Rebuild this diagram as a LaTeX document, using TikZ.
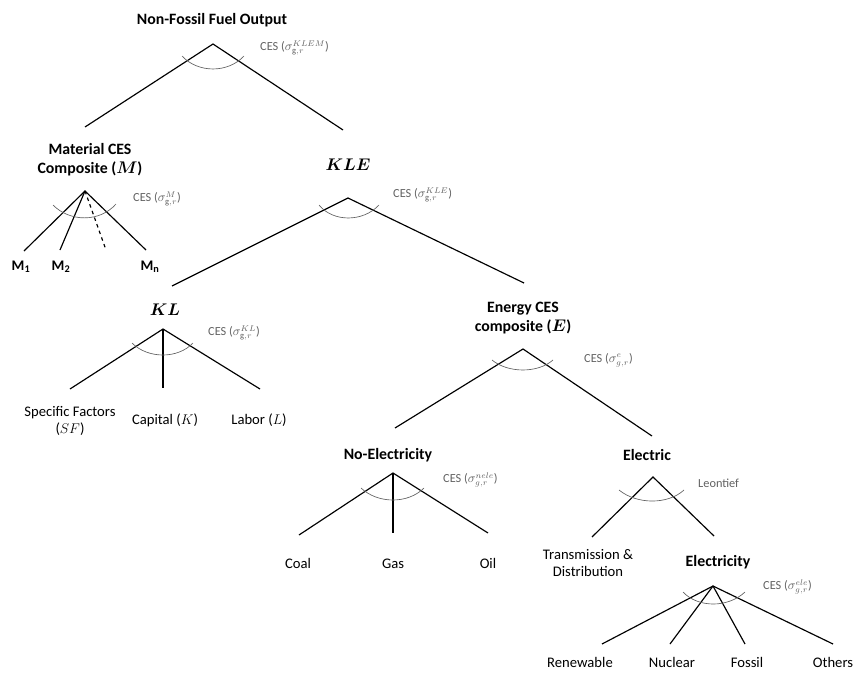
\documentclass[tikz,border=0pt]{standalone}
\usepackage{fontspec}
\usepackage{amsmath}
\setmainfont{Carlito}
\definecolor{cesgray}{gray}{0.38}
\tikzset{
	head/.style={font=\fontsize{13.5}{16}\selectfont\bfseries, align=center, inner sep=0pt},
	leaf/.style={font=\fontsize{12.5}{14.5}\selectfont, align=center, inner sep=0pt},
	word/.style={leaf, text height=1.6ex, text depth=0.4ex},
	ces/.style={font=\fontsize{10.5}{12}\selectfont, text=cesgray, anchor=west, inner sep=0pt},
	leg/.style={line width=0.35mm},
	bow/.style={cesgray, line width=0.2mm}
}
\begin{document}
\begin{tikzpicture}[x=0.3mm,y=-0.3mm]
		\useasboundingbox (0,0) rectangle (854,674);

		% group titles
		\draw (212,20) node (output) [head] {Non-Fossil Fuel Output};
		\draw (90,160) node (mat) [head] {Material CES\\Composite ($\boldsymbol{M}$)};
		\draw (348,165) node (kle) [head] {$\boldsymbol{KLE}$};
		\draw (165,310) node (kl) [head] {$\boldsymbol{KL}$};
		\draw (523,318) node (energy) [head] {Energy CES\\composite ($\boldsymbol{E}$)};
		\draw (388,455) node (noele) [head] {No-Electricity};
		\draw (647,455) node (electric) [head] {Electric};
		\draw (718,562) node (electricity) [head] {Electricity};

		% apexes
		\coordinate (output0) at (213,44);
		\coordinate (mat0) at (85,191);
		\coordinate (kle0) at (348,198);
		\coordinate (kl0) at (163,329);
		\coordinate (energy0) at (523,349);
		\coordinate (noele0) at (393,473);
		\coordinate (electric0) at (653,477);
		\coordinate (electricity0) at (713,586);

		% leg ends
		\coordinate (to-mat) at (85,127);
		\coordinate (to-kle) at (343,130);
		\coordinate (to-m1) at (24,251);
		\coordinate (to-m2) at (60,250);
		\coordinate (to-dots) at (106,250);
		\coordinate (to-mn) at (146,250);
		\coordinate (to-kl) at (172,286);
		\coordinate (to-energy) at (524,283);
		\coordinate (to-sf) at (70,389);
		\coordinate (to-cap) at (163,388);
		\coordinate (to-lab) at (260,389);
		\coordinate (to-noele) at (395,428);
		\coordinate (to-electric) at (652,436);
		\coordinate (to-coal) at (299,535);
		\coordinate (to-gas) at (393,533);
		\coordinate (to-oil) at (488,533);
		\coordinate (to-td) at (592,537);
		\coordinate (to-electricity) at (714,536);
		\coordinate (to-ren) at (602,644);
		\coordinate (to-nuc) at (670,644);
		\coordinate (to-fos) at (745,644);
		\coordinate (to-oth) at (833,644);

		% inputs
		\draw (21,267) node (m1) [word, font=\fontsize{12.5}{14}\selectfont\bfseries] {M\textsubscript{1}};
		\draw (61,267) node (m2) [word, font=\fontsize{12.5}{14}\selectfont\bfseries] {M\textsubscript{2}};
		\draw (150,267) node (mn) [word, font=\fontsize{12.5}{14}\selectfont\bfseries] {M\textsubscript{n}};
		\draw (70,421) node (sf) [leaf] {Specific Factors\\($SF$)};
		\draw (165,421) node (cap) [word] {Capital ($K$)};
		\draw (259,421) node (lab) [word] {Labor ($L$)};
		\draw (298,565) node (coal) [word] {Coal};
		\draw (393,565) node (gas) [word] {Gas};
		\draw (488,565) node (oil) [word] {Oil};
		\draw (588,563) node (td) [leaf] {Transmission \&\\Distribution};
		\draw (580,664) node (ren) [word] {Renewable};
		\draw (672,664) node (nuc) [word] {Nuclear};
		\draw (747,664) node (fos) [word] {Fossil};
		\draw (833,664) node (oth) [word] {Others};

		% legs
		\draw[leg] (to-mat) -- (output0) -- (to-kle);
		\draw[leg] (to-m1) -- (mat0) -- (to-mn);
		\draw[leg] (mat0) -- (to-m2);
		\draw[leg, dashed] (mat0) -- (to-dots);
		\draw[leg] (to-kl) -- (kle0) -- (to-energy);
		\draw[leg] (to-sf) -- (kl0) -- (to-lab);
		\draw[leg] (kl0) -- (to-cap);
		\draw[leg] (to-noele) -- (energy0) -- (to-electric);
		\draw[leg] (to-coal) -- (noele0) -- (to-oil);
		\draw[leg] (noele0) -- (to-gas);
		\draw[leg] (to-td) -- (electric0) -- (to-electricity);
		\draw[leg] (to-ren) -- (electricity0) -- (to-oth);
		\draw[leg] (electricity0) -- (to-nuc);
		\draw[leg] (electricity0) -- (to-fos);

		% substitution bows
		\draw[bow, shift={(output0)}] (-31,12) .. controls (-15,29.3) and (15,29.3) .. (31,12);
		\draw[bow, shift={(mat0)}] (-32,14) .. controls (-15,31.3) and (15,31.3) .. (31,13);
		\draw[bow, shift={(kle0)}] (-29,7) .. controls (-15,24.3) and (15,24.3) .. (31,7);
		\draw[bow, shift={(kl0)}] (-31,14) .. controls (-15,30) and (15,30) .. (30,14);
		\draw[bow, shift={(energy0)}] (-31,11) .. controls (-15,24.3) and (15,24.3) .. (30,11);
		\draw[bow, shift={(noele0)}] (-32,15) .. controls (-15,31) and (15,31) .. (31,15);
		\draw[bow, shift={(electric0)}] (-34,13) .. controls (-16,27.7) and (15,27.7) .. (31,13);
		\draw[bow, shift={(electricity0)}] (-30,6) .. controls (-15,22) and (15,22) .. (32,6);

		% elasticities
		\draw (260,48) node (ces-output) [ces] {CES ($\sigma_{\mathrm{g},r}^{KLEM}$)};
		\draw (133,199) node (ces-mat) [ces] {CES ($\sigma_{\mathrm{g},r}^{M}$)};
		\draw (393,195) node (ces-kle) [ces] {CES ($\sigma_{\mathrm{g},r}^{KLE}$)};
		\draw (208,333) node (ces-kl) [ces] {CES ($\sigma_{\mathrm{g},r}^{KL}$)};
		\draw (584,360) node (ces-energy) [ces] {CES ($\sigma_{g,r}^{e}$)};
		\draw (443,480) node (ces-noele) [ces] {CES ($\sigma_{g,r}^{nele}$)};
		\draw (698,483) node (ces-electric) [ces] {Leontief};
		\draw (763,587) node (ces-electricity) [ces] {CES ($\sigma_{g,r}^{ele}$)};
	\end{tikzpicture}
\end{document}
